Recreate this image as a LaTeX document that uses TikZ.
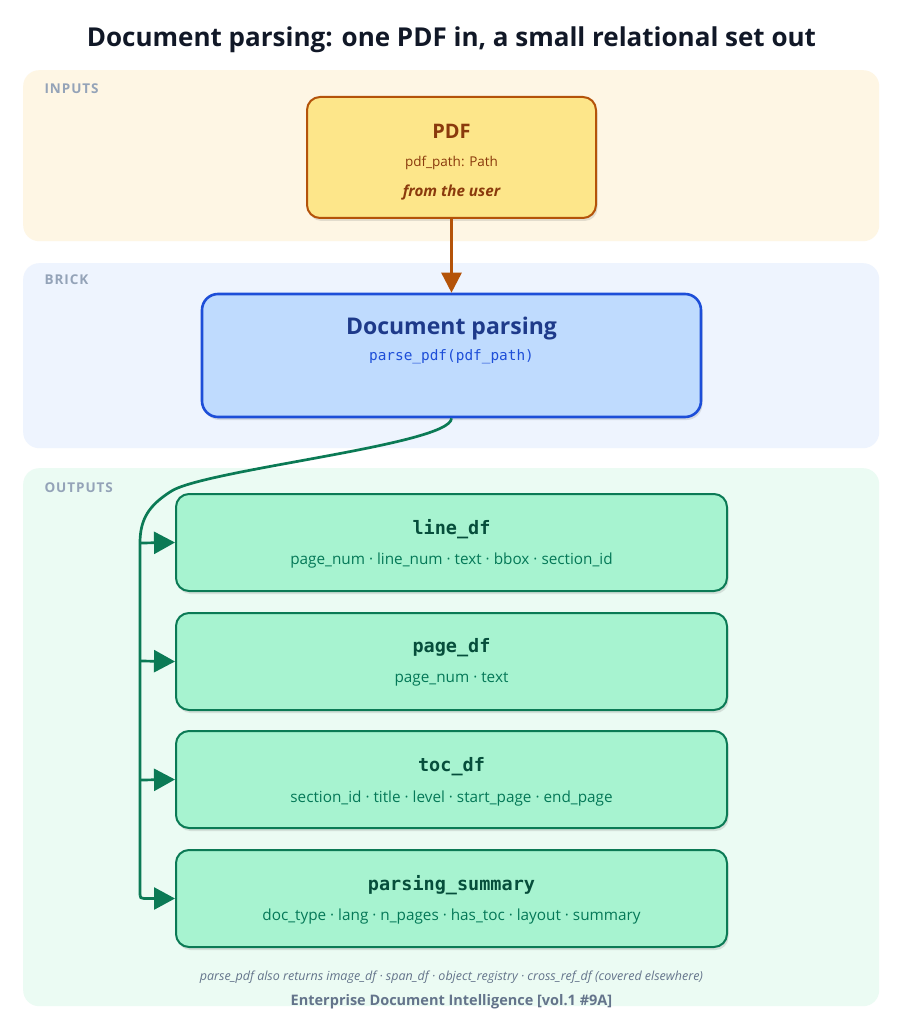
\documentclass[tikz,border=0pt]{standalone}
\usepackage{fontspec}
\setmainfont{Open Sans}
\setmonofont{DejaVu Sans Mono}
\usetikzlibrary{arrows.meta,shadows}
\definecolor{titlec}{HTML}{111827}
\definecolor{panellab}{HTML}{94A3B8}
\definecolor{inbg}{HTML}{FEF6E4}
\definecolor{brickbg}{HTML}{EEF4FE}
\definecolor{outbg}{HTML}{EBFBF3}
\definecolor{pdffill}{HTML}{FDE68A}
\definecolor{pdfborder}{HTML}{B45309}
\definecolor{pdftext}{HTML}{8A3A0C}
\definecolor{bluefill}{HTML}{BFDBFE}
\definecolor{blueborder}{HTML}{1D4ED8}
\definecolor{bluetitle}{HTML}{1E3A8A}
\definecolor{bluecode}{HTML}{1D4ED8}
\definecolor{greenfill}{HTML}{A7F3D0}
\definecolor{greenborder}{HTML}{0B7A55}
\definecolor{greentitle}{HTML}{064E3B}
\definecolor{greentext}{HTML}{047857}
\definecolor{footc}{HTML}{64748B}
\tikzset{
  panel/.style={fill=#1, draw=none, rounded corners=16pt, anchor=north west, inner sep=0pt},
  panellabel/.style={font=\bfseries\fontsize{13.5}{15}\selectfont\addfontfeature{LetterSpace=7}, text=panellab, anchor=west},
  shadowed/.style={drop shadow={opacity=0.18, shadow xshift=1.5pt, shadow yshift=-3pt, fill=black!60}},
  pdfbox/.style={shadowed, fill=pdffill, draw=pdfborder, line width=2pt, rounded corners=13pt, inner sep=0pt},
  bluebox/.style={shadowed, fill=bluefill, draw=blueborder, line width=2.6pt, rounded corners=16pt, inner sep=0pt},
  greenbox/.style={shadowed, fill=greenfill, draw=greenborder, line width=2pt, rounded corners=13pt, inner sep=0pt, minimum width=551pt, minimum height=97pt},
  gtitle/.style={font=\ttfamily\bfseries\fontsize{18.5}{20}\selectfont, text=greentitle},
  gsub/.style={font=\fontsize{15.3}{17}\selectfont, text=greentext},
  gconn/.style={draw=greenborder, line width=2.7pt},
  garrow/.style={gconn, -{Triangle[length=21pt,width=22pt]}},
}
\begin{document}
\begin{tikzpicture}[x=1pt,y=-1pt]
\useasboundingbox[fill=white] (0,0) rectangle (903,1024);
% title
\node[font=\bfseries\fontsize{26}{29}\selectfont, text=titlec] (title) at (451.5,40) {Document parsing: one PDF in, a small relational set out};
% panels
\node[panel=inbg, minimum width=856pt, minimum height=171pt] (inpanel) at (23,70) {};
\node[panel=brickbg, minimum width=856pt, minimum height=185pt] (brickpanel) at (23,263) {};
\node[panel=outbg, minimum width=856pt, minimum height=538pt] (outpanel) at (23,468) {};
\node[panellabel] (inlab) at (41,89) {INPUTS};
\node[panellabel] (bricklab) at (41,280) {BRICK};
\node[panellabel] (outlab) at (41,488) {OUTPUTS};
% PDF node
\node[pdfbox, minimum width=289pt, minimum height=121pt] (pdf) at (451.5,157.5) {};
\node[font=\bfseries\fontsize{20}{22}\selectfont, text=pdftext] (pdft) at (451.5,131.5) {PDF};
\node[font=\fontsize{13.5}{16}\selectfont, text=pdftext] (pdfs) at (451.5,163) {pdf\_path: Path};
\node[font=\bfseries\itshape\fontsize{15.2}{17}\selectfont, text=pdftext] (pdfu) at (451.5,193) {from the user};
% Document parsing
\node[bluebox, minimum width=499pt, minimum height=123pt] (parse) at (451.5,355.5) {};
\node[font=\bfseries\fontsize{23}{26}\selectfont, text=bluetitle] (parset) at (451.5,328.5) {Document parsing};
\node[font=\ttfamily\fontsize{14.4}{16}\selectfont, text=bluecode] (parses) at (451.5,357) {parse\_pdf(pdf\_path)};
% arrow
\draw[draw=pdfborder, line width=2.6pt, -{Triangle[length=20pt,width=20pt]}] (pdf.south) -- (parse.north);
% outputs
\node[greenbox] (line) at (451.5,542.5) {};
\node[gtitle] (linet) at (451.5,529) {line\_df};
\node[gsub] (lines) at (451.5,560.5) {page\_num · line\_num · text · bbox · section\_id};
\node[greenbox] (page) at (451.5,661.5) {};
\node[gtitle] (paget) at (451.5,648) {page\_df};
\node[gsub] (pages) at (451.5,679.5) {page\_num · text};
\node[greenbox] (toc) at (451.5,779.5) {};
\node[gtitle] (toct) at (451.5,767) {toc\_df};
\node[gsub] (tocs) at (451.5,798.5) {section\_id · title · level · start\_page · end\_page};
\node[greenbox] (summ) at (451.5,898.5) {};
\node[gtitle] (summt) at (451.5,885) {parsing\_summary};
\node[gsub] (summs) at (451.5,916.5) {doc\_type · lang · n\_pages · has\_toc · layout · summary};
% connector
\coordinate (j1) at (140,543);
\coordinate (j2) at (140,661);
\coordinate (j3) at (140,780);
\coordinate (j4) at (140,895);
\draw[gconn] (parse.south) .. controls (451,445) and (200,470) .. (170,492) .. controls (150,505) and (140,518) .. (j1) -- (j4);
\draw[garrow] (j4) .. controls (140,897.5) and (141,898.5) .. (144,898.5) -- (summ.west);
\draw[garrow] (j1) -- (line.west);
\draw[garrow] (j2) -- (page.west);
\draw[garrow] (j3) -- (toc.west);
% footer
\node[font=\itshape\fontsize{12.5}{14}\selectfont, text=footc] (note) at (451.5,977.5) {parse\_pdf also returns image\_df · span\_df · object\_registry · cross\_ref\_df (covered elsewhere)};
\node[font=\bfseries\fontsize{14.5}{16}\selectfont, text=footc] (foot) at (451.5,1001.5) {Enterprise Document Intelligence [vol.1 \#9A]};
\end{tikzpicture}
\end{document}
